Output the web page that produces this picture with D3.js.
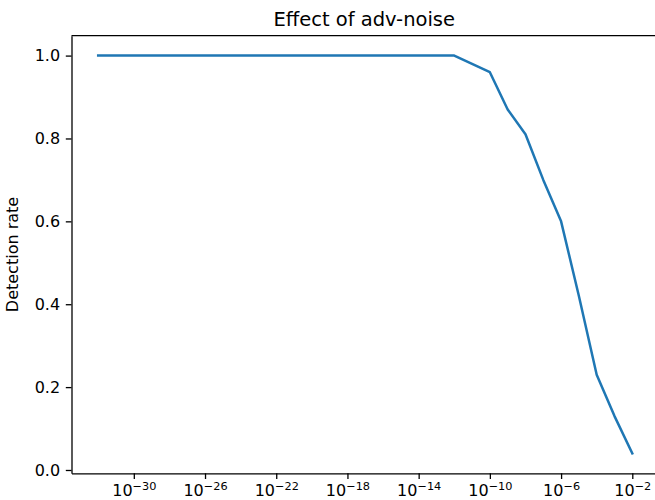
<!DOCTYPE html>
<meta charset="utf-8">
<head>
<style>
body {
  margin: 0;
  background: #fff;
  font-family: 'DejaVu Sans', sans-serif;
}

.axis path,
.axis line {
  fill: none;
  stroke: #000;
  stroke-width: 1.3px;
}

.axis text {
  font-family: 'DejaVu Sans', sans-serif;
  font-size: 16px;
  fill: #000;
}

.line {
  fill: none;
  stroke: #1f77b4;
  stroke-width: 2.5px;
  stroke-linejoin: round;
  stroke-linecap: square;
}
</style>
</head>

<body>
<div id="chart"></div>

<script src="https://d3js.org/d3.v7.min.js"></script>
<script>

// noise magnitude, as powers of ten
var noiseExp = [-32, -12, -10, -9, -8, -7, -6, -5, -4, -3, -2];
var detection = [1.0, 1.0, 0.96, 0.87, 0.81, 0.70, 0.60, 0.42, 0.23, 0.13, 0.04];
var xTickExp = [-30, -26, -22, -18, -14, -10, -6, -2];
var yTicks = [0.0, 0.2, 0.4, 0.6, 0.8, 1.0];

var margin = {top: 35.7, right: -4, bottom: 26.7, left: 71.5},
    width = 655 - margin.left - margin.right,
    height = 500 - margin.top - margin.bottom;

var data = noiseExp.map(function(e, i) {
  return {x: Math.pow(10, e), y: detection[i]};
});

var x = d3.scaleLog()
    .domain([Math.pow(10, -33.5), Math.pow(10, -0.5)])
    .range([0, width]);

var y = d3.scaleLinear()
    .domain([-0.008, 1.048])
    .range([height, 0]);

var svg = d3.select("#chart").append("svg")
    .attr("width", 655)
    .attr("height", 500)
  .append("g")
    .attr("transform", "translate(" + margin.left + "," + margin.top + ")");

var xAxis = d3.axisBottom(x)
    .tickValues(xTickExp.map(function(e) { return Math.pow(10, e); }))
    .tickSizeInner(5.7)
    .tickSizeOuter(0)
    .tickPadding(5.7)
    .tickFormat("");

var yAxis = d3.axisLeft(y)
    .tickValues(yTicks)
    .tickSizeInner(5.7)
    .tickSizeOuter(0)
    .tickPadding(5.7)
    .tickFormat(d3.format(".1f"));

var gx = svg.append("g")
    .attr("class", "x axis")
    .attr("transform", "translate(0," + height + ")")
    .call(xAxis);

// 10^n labels with superscript exponent
gx.selectAll(".tick text")
    .attr("y", 23.2)
    .attr("dy", null)
    .each(function(d, i) {
      var t = d3.select(this);
      t.append("tspan").text("10");
      t.append("tspan")
          .attr("dy", -6.5)
          .style("font-size", "11.3px")
          .text("\u2212" + Math.abs(xTickExp[i]));
    });

svg.append("g")
    .attr("class", "y axis")
    .call(yAxis);

// top spine
svg.append("line")
    .attr("x1", 0).attr("x2", width)
    .attr("y1", 0).attr("y2", 0)
    .attr("stroke", "#000")
    .attr("stroke-width", 1.3);

svg.append("line")
    .attr("x1", width).attr("x2", width)
    .attr("y1", 0).attr("y2", height)
    .attr("stroke", "#000")
    .attr("stroke-width", 1.3);

var line = d3.line()
    .x(function(d) { return x(d.x); })
    .y(function(d) { return y(d.y); });

svg.append("path")
    .datum(data)
    .attr("class", "line")
    .attr("d", line);

svg.append("text")
    .attr("x", width / 2 - 1)
    .attr("y", 26 - margin.top)
    .attr("text-anchor", "middle")
    .style("font-size", "19.5px")
    .text("Effect of adv-noise");

svg.append("text")
    .attr("transform", "translate(" + (17.5 - margin.left) + "," + (height / 2) + ") rotate(-90)")
    .attr("text-anchor", "middle")
    .style("font-size", "16px")
    .text("Detection rate");

</script>
</body>
